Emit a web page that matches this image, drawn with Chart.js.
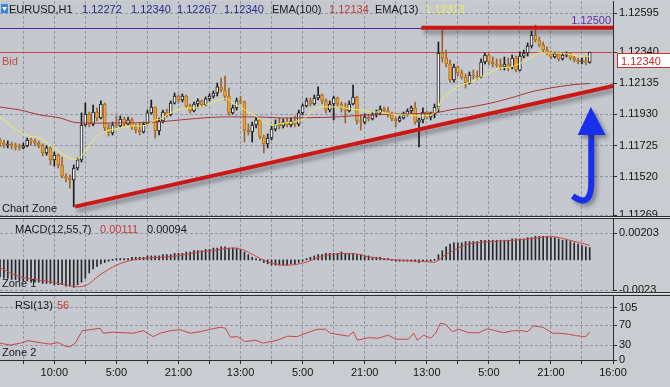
<!DOCTYPE html>
<html>
<head>
<meta charset="utf-8">
<script src="https://cdn.jsdelivr.net/npm/chart.js@4.4.0/dist/chart.umd.min.js"></script>
<style>
  html, body { margin: 0; padding: 0; background: #c9ccd1; }
  #wrap { position: relative; width: 670px; height: 387px; overflow: hidden; }
  canvas { position: absolute; left: 0; }
  .sep { position: absolute; left: 0; width: 670px; height: 1px; background: #2e3134; }
  .sepl { position: absolute; left: 0; width: 670px; height: 1px; background: #dfe1e4; }
</style>
</head>
<body>
<div id="wrap">
  <canvas id="main" width="670" height="217" style="top:0"></canvas>
  <canvas id="macd" width="670" height="76" style="top:217px"></canvas>
  <canvas id="rsi" width="670" height="94" style="top:293px"></canvas>
  <div class="sep" style="top:216px"></div>
  <div class="sepl" style="top:217px"></div>
  <div class="sep" style="top:218px"></div>
  <div class="sep" style="top:292px"></div>
  <div class="sepl" style="top:293px"></div>
  <div class="sep" style="top:295px"></div>
</div>
<script>
// EURUSD H1 candles, bar index 0..152 (open = previous close)
const firstOpen = 1.11762;
const closes = [
  1.11742, 1.11729, 1.11736, 1.11723, 1.11716, 1.11710, 1.11723, 1.11762, 1.11756, 1.11742,
  1.11729, 1.11677, 1.11710, 1.11631, 1.11663, 1.11598, 1.11525, 1.11512, 1.11499, 1.11578,
  1.11631, 1.11861, 1.11933, 1.11867, 1.11946, 1.11907, 1.11999, 1.11841, 1.11808, 1.11861,
  1.11854, 1.11900, 1.11867, 1.11894, 1.11848, 1.11828, 1.11815, 1.11867, 1.11940, 1.11979,
  1.11821, 1.11887, 1.11946, 1.11927, 1.12005, 1.12051, 1.12025, 1.12051, 1.11986, 1.11953,
  1.11999, 1.12019, 1.11992, 1.12032, 1.12051, 1.12071, 1.12111, 1.12091, 1.12051, 1.11940,
  1.11973, 1.12019, 1.12012, 1.11828, 1.11815, 1.11861, 1.11894, 1.11782, 1.11736, 1.11775,
  1.11834, 1.11867, 1.11854, 1.11880, 1.11861, 1.11887, 1.11867, 1.11940, 1.11986, 1.12019,
  1.11999, 1.12038, 1.12058, 1.12019, 1.11959, 1.11999, 1.12038, 1.11999, 1.11973, 1.11953,
  1.11999, 1.12045, 1.11887, 1.11880, 1.11913, 1.11900, 1.11927, 1.11940, 1.11966, 1.11953,
  1.11927, 1.11900, 1.11887, 1.11907, 1.11927, 1.11953, 1.11973, 1.11880, 1.11894, 1.11946,
  1.11913, 1.11933, 1.11979, 1.12334, 1.12301, 1.12262, 1.12157, 1.12242, 1.12203, 1.12176,
  1.12137, 1.12189, 1.12183, 1.12176, 1.12275, 1.12321, 1.12275, 1.12262, 1.12255, 1.12242,
  1.12262, 1.12242, 1.12301, 1.12222, 1.12314, 1.12334, 1.12380, 1.12452, 1.12420, 1.12387,
  1.12354, 1.12334, 1.12308, 1.12328, 1.12295, 1.12321, 1.12328, 1.12301, 1.12288, 1.12275,
  1.12282, 1.12272, 1.12340
];
const highs = [
  1.11775, 1.11762, 1.11756, 1.11749, 1.11742, 1.11736, 1.11742, 1.11775, 1.11775, 1.11769,
  1.11756, 1.11736, 1.11723, 1.11716, 1.11683, 1.11670, 1.11650, 1.11539, 1.11532, 1.11598,
  1.11644, 1.11940, 1.12005, 1.11946, 1.11992, 1.11973, 1.12019, 1.12005, 1.11867, 1.11880,
  1.11920, 1.11920, 1.11913, 1.11913, 1.11907, 1.11867, 1.11874, 1.11880, 1.11959, 1.12025,
  1.11973, 1.11907, 1.11959, 1.11966, 1.12019, 1.12071, 1.12058, 1.12065, 1.12058, 1.11999,
  1.12012, 1.12032, 1.12025, 1.12045, 1.12065, 1.12084, 1.12137, 1.12170, 1.12183, 1.12104,
  1.11992, 1.12038, 1.12051, 1.12019, 1.11867, 1.11880, 1.11913, 1.11900, 1.11795, 1.11802,
  1.11854, 1.11894, 1.11907, 1.11900, 1.11907, 1.11907, 1.11920, 1.11959, 1.11999, 1.12038,
  1.12038, 1.12058, 1.12111, 1.12065, 1.12032, 1.12019, 1.12051, 1.12045, 1.12012, 1.12005,
  1.12019, 1.12124, 1.12051, 1.11920, 1.11933, 1.11933, 1.11946, 1.11959, 1.11986, 1.11979,
  1.11979, 1.11946, 1.11913, 1.11920, 1.11946, 1.11966, 1.11986, 1.12012, 1.11907, 1.11973,
  1.11953, 1.11946, 1.11999, 1.12406, 1.12485, 1.12354, 1.12288, 1.12262, 1.12249, 1.12222,
  1.12196, 1.12209, 1.12222, 1.12216, 1.12295, 1.12334, 1.12328, 1.12308, 1.12295, 1.12295,
  1.12308, 1.12301, 1.12321, 1.12314, 1.12341, 1.12354, 1.12400, 1.12479, 1.12518, 1.12439,
  1.12406, 1.12374, 1.12347, 1.12341, 1.12341, 1.12334, 1.12341, 1.12334, 1.12314, 1.12301,
  1.12301, 1.12314, 1.12340
];
const lows = [
  1.11716, 1.11710, 1.11710, 1.11703, 1.11696, 1.11696, 1.11703, 1.11716, 1.11729, 1.11723,
  1.11710, 1.11657, 1.11663, 1.11598, 1.11591, 1.11578, 1.11512, 1.11486, 1.11446, 1.11322,
  1.11565, 1.11617, 1.11854, 1.11848, 1.11854, 1.11887, 1.11900, 1.11821, 1.11788, 1.11795,
  1.11841, 1.11848, 1.11854, 1.11861, 1.11834, 1.11808, 1.11795, 1.11808, 1.11861, 1.11933,
  1.11775, 1.11795, 1.11874, 1.11913, 1.11920, 1.11999, 1.12005, 1.12012, 1.11973, 1.11940,
  1.11946, 1.11973, 1.11979, 1.11986, 1.12019, 1.12038, 1.12051, 1.12078, 1.12025, 1.11927,
  1.11933, 1.11959, 1.11999, 1.11749, 1.11795, 1.11749, 1.11841, 1.11769, 1.11677, 1.11710,
  1.11762, 1.11821, 1.11834, 1.11841, 1.11848, 1.11848, 1.11848, 1.11854, 1.11927, 1.11979,
  1.11986, 1.11992, 1.12025, 1.11999, 1.11940, 1.11946, 1.11894, 1.11979, 1.11946, 1.11874,
  1.11946, 1.11992, 1.11867, 1.11828, 1.11867, 1.11887, 1.11894, 1.11913, 1.11927, 1.11940,
  1.11913, 1.11887, 1.11848, 1.11880, 1.11900, 1.11920, 1.11940, 1.11867, 1.11716, 1.11874,
  1.11900, 1.11894, 1.11907, 1.11946, 1.12275, 1.12242, 1.12143, 1.12143, 1.12183, 1.12163,
  1.12104, 1.12130, 1.12163, 1.12157, 1.12170, 1.12262, 1.12255, 1.12242, 1.12242, 1.12222,
  1.12222, 1.12216, 1.12229, 1.12209, 1.12216, 1.12301, 1.12314, 1.12367, 1.12406, 1.12374,
  1.12341, 1.12321, 1.12295, 1.12301, 1.12282, 1.12288, 1.12308, 1.12288, 1.12275, 1.12262,
  1.12262, 1.12255, 1.12267
];

// moving averages as [bar, price]
const ema13 = [
  [0, 1.11913], [2.6, 1.11861], [5.2, 1.11815], [7.7, 1.11788], [10.3, 1.11775], [12.9, 1.11729],
  [15.5, 1.11683], [17.3, 1.11650], [18.6, 1.11637], [19.9, 1.11637], [21.2, 1.11663], [22.5, 1.11710],
  [24, 1.11762], [25.8, 1.11802], [28.4, 1.11828], [31, 1.11841], [33.5, 1.11854], [36.1, 1.11854],
  [37.9, 1.11861], [40, 1.11894], [41.3, 1.11900], [43.9, 1.11940], [46.5, 1.11966], [49, 1.11973],
  [51.6, 1.11979], [54.2, 1.12005], [57.3, 1.12032], [58.6, 1.12032], [60.1, 1.12005], [61.9, 1.11979],
  [64.5, 1.11940], [66.3, 1.11913], [68.4, 1.11874], [70.5, 1.11861], [73, 1.11874], [75.6, 1.11880],
  [78.7, 1.11907], [80, 1.11946], [82.6, 1.11979], [85.2, 1.11979], [87.7, 1.11979], [90.3, 1.11966],
  [92.9, 1.11959], [95.5, 1.11946], [98.1, 1.11946], [100.6, 1.11933], [103.2, 1.11927], [105.8, 1.11927],
  [108.4, 1.11920], [111, 1.11927], [112.8, 1.11959], [113.5, 1.12012], [114.8, 1.12058], [117.4, 1.12104],
  [118.7, 1.12124], [121.3, 1.12143], [123.9, 1.12176], [126.5, 1.12209], [129, 1.12236], [131.6, 1.12242],
  [134.2, 1.12268], [136.8, 1.12301], [138.8, 1.12334], [141.2, 1.12334], [143.7, 1.12334], [146.3, 1.12328],
  [148.9, 1.12314], [152, 1.12313]
];
const ema100 = [
  [0, 1.11979], [5.2, 1.11959], [10.3, 1.11927], [15.5, 1.11907], [18.8, 1.11880], [21.4, 1.11874],
  [31, 1.11874], [40, 1.11880], [49, 1.11900], [56, 1.11913], [67.1, 1.11913], [73, 1.11907],
  [85.9, 1.11913], [94.7, 1.11927], [103.2, 1.11933], [111.7, 1.11940], [117.4, 1.11966], [121.3, 1.11979],
  [126.5, 1.12005], [131.6, 1.12038], [136.8, 1.12078], [141.9, 1.12104], [147.1, 1.12124], [152, 1.12134]
];

// MACD(12,55,7): histogram per bar, signal as [bar, value]
const macdHist = [
  -0.0013, -0.0014, -0.0014, -0.0015, -0.0015, -0.0016, -0.0016, -0.0016, -0.0017, -0.0017,
  -0.0017, -0.0018, -0.0018, -0.0018, -0.0019, -0.0019, -0.0019, -0.0020, -0.0020, -0.0021,
  -0.0019, -0.0017, -0.0014, -0.0010, -0.0007, -0.0005, -0.0003, -0.0002, -0.0001, 0.0000,
  0.0001, 0.0001, 0.0001, 0.0001, 0.0002, 0.0002, 0.0002, 0.0002, 0.0003, 0.0003,
  0.0003, 0.0003, 0.0004, 0.0004, 0.0004, 0.0005, 0.0005, 0.0005, 0.0006, 0.0006,
  0.0007, 0.0007, 0.0007, 0.0008, 0.0008, 0.0009, 0.0009, 0.0010, 0.0010, 0.0009,
  0.0009, 0.0009, 0.0008, 0.0006, 0.0004, 0.0002, 0.0001, 0.0000, -0.0002, -0.0003,
  -0.0004, -0.0004, -0.0004, -0.0004, -0.0004, -0.0003, -0.0003, -0.0002, -0.0001, 0.0001,
  0.0002, 0.0003, 0.0004, 0.0004, 0.0005, 0.0005, 0.0005, 0.0005, 0.0006, 0.0005,
  0.0005, 0.0005, 0.0004, 0.0004, 0.0003, 0.0003, 0.0002, 0.0002, 0.0002, 0.0001,
  0.0001, 0.0000, -0.0001, -0.0001, -0.0001, -0.0001, -0.0001, -0.0001, -0.0002, -0.0001,
  -0.0001, -0.0001, 0.0000, 0.0004, 0.0007, 0.0010, 0.0012, 0.0013, 0.0013, 0.0013,
  0.0014, 0.0014, 0.0014, 0.0014, 0.0015, 0.0015, 0.0015, 0.0015, 0.0015, 0.0015,
  0.0015, 0.0015, 0.0016, 0.0016, 0.0016, 0.0016, 0.0017, 0.0017, 0.0018, 0.0018,
  0.0018, 0.0018, 0.0017, 0.0017, 0.0016, 0.0015, 0.0015, 0.0014, 0.0013, 0.0012,
  0.0011, 0.0010, 0.00094
];
const macdSignal = [
  [0, -0.00061], [5.2, -0.00129], [12.9, -0.00167], [19.9, -0.00205], [22.5, -0.00190], [25.8, -0.00114],
  [30.2, -0.00038], [34.3, 0], [38.7, 0.00015], [43.1, 0.00023], [47.2, 0.00038], [51.6, 0.00061],
  [56, 0.00076], [60.1, 0.00091], [62.7, 0.00076], [65.3, 0.00038], [68.9, -0.00015], [72.3, -0.00038],
  [75.6, -0.00038], [79.2, -0.00015], [82.6, 0.00023], [86.5, 0.00046], [91.6, 0.00046], [95, 0.00023],
  [101.9, 0], [110.5, -0.00015], [112.3, -0.00015], [114.8, 0.00038], [118.2, 0.00091], [120.8, 0.00122],
  [125.2, 0.00137], [129.5, 0.00144], [136.3, 0.00160], [140.6, 0.00175], [143.2, 0.00175], [146.6, 0.00152],
  [152, 0.00111]
];

// RSI(13) as [bar, value]
const rsi13 = [
  [0, 34], [2.6, 30], [5.2, 34], [7.2, 39], [10.3, 35], [12.9, 32], [15, 35], [16.8, 28], [18.1, 27],
  [19.4, 34], [21.2, 59], [23.2, 61], [25.8, 64], [26.6, 54], [29.2, 56], [31.7, 55], [34.3, 54],
  [36.9, 59], [39.5, 47], [41.3, 54], [43.9, 59], [46.5, 61], [49, 54], [51.6, 57], [54.2, 62],
  [56.8, 66], [58.1, 64], [59.4, 46], [61.2, 47], [63.2, 37], [65.8, 40], [67.9, 34], [71.5, 40],
  [74.1, 48], [76.6, 47], [79.2, 55], [81.8, 62], [83.9, 62], [85.2, 54], [88.3, 50], [89.8, 48],
  [91.1, 57], [92.1, 40], [95, 45], [97.5, 44], [100.1, 50], [101.9, 42], [105.3, 42], [106.6, 54],
  [107.6, 40], [109.2, 50], [111, 44], [112.3, 54], [113.5, 74], [114.8, 72], [116.6, 57], [118.2, 62],
  [120.8, 55], [123.4, 55], [125.7, 63], [127.7, 59], [129.8, 55], [132.1, 59], [134.7, 59], [136, 57],
  [137.5, 69], [139.9, 66], [142.5, 54], [144, 54], [146.6, 52], [148.4, 49], [151, 47], [152, 56]
];

// axes
const gridBars = [6, 14, 22, 30, 38, 46, 54, 62, 70, 78, 86, 94, 102, 110, 118, 126, 134, 142, 150, 158];
const labelBars = [14, 30, 46, 62, 78, 94, 110, 126, 142, 158];
const timeLabels = ['10:00', '5:00', '21:00', '13:00', '5:00', '21:00', '13:00', '5:00', '21:00', '16:00'];
const priceTicks = [1.12595, 1.12340, 1.12135, 1.11930, 1.11725, 1.11520, 1.11269];
const macdTicks = [0.00203, -0.0023];
const macdTickText = ['0.00203', '-0.0023'];
const rsiTicks = [105, 70, 30, 0];

// drawn objects, in [bar, price]
const levelLine = 1.12500;
const bidPrice = 1.12340;
const resistance = [[108.6, 1.12500], [158, 1.12500]];
const trendLine = [[19.35, 1.11324], [158, 1.12117]];
const arrowTail = [147.6, 1.11394];
const arrowCurve = [152.6, 1.11302];
const arrowBend = [152.4, 1.11499];
const arrowNeck = [152.4, 1.11800];
const arrowHead = [[148.9, 1.11795], [152.3, 1.11979], [156.1, 1.11795]];

// header texts
const headerItems = [
  ['EURUSD,H1', 9, '#15171a'], ['1.12272', 82, '#232c86'], ['1.12340', 131, '#232c86'],
  ['1.12267', 177, '#232c86'], ['1.12340', 224, '#232c86'], ['EMA(100)', 272, '#15171a'],
  ['1.12134', 329, '#c23a3a'], ['EMA(13)', 375, '#15171a'], ['1.12313', 425, '#eceb5a']
];

const FONT = '"Liberation Sans", Arial, sans-serif';
const GRID = '#8f97a3';
const AXIS = '#2b2d30';
Chart.defaults.font.family = FONT;
Chart.defaults.font.size = 11;
Chart.defaults.color = '#121416';

const opens = closes.map((c, i) => (i === 0 ? firstOpen : closes[i - 1]));
const bull = closes.map((c, i) => c >= opens[i]);

function xScale(showLabels) {
  return {
    type: 'linear', min: 0, max: 158, offset: false,
    afterBuildTicks: s => { s.ticks = gridBars.map(v => ({ value: v })); },
    afterFit: s => {
      s.height = showLabels ? 27 : 0;
      s.paddingLeft = 0; s.paddingRight = 0;
    },
    grid: { color: GRID, offset: false, drawTicks: showLabels, tickLength: 4, tickColor: AXIS, tickBorderDash: [] },
    border: { display: showLabels, color: AXIS, dash: [3, 2] },
    ticks: {
      display: showLabels, autoSkip: false, maxRotation: 0, padding: 2, color: '#121416',
      callback: v => { const k = labelBars.indexOf(v); return k >= 0 ? timeLabels[k] : ''; }
    }
  };
}
function yScale(min, max, ticks, fmt) {
  return {
    position: 'right', min, max, beginAtZero: false,
    afterBuildTicks: s => { s.ticks = ticks.map(v => ({ value: v })); },
    afterFit: s => {
      s.width = 57;
      s.paddingTop = 0; s.paddingBottom = 0;
    },
    grid: { color: GRID, drawTicks: true, tickLength: 4, tickColor: AXIS, tickBorderDash: [] },
    border: { display: true, color: AXIS, dash: [3, 2] },
    ticks: { padding: 2, color: '#121416', callback: fmt }
  };
}

const panelBg = {
  id: 'panelBg',
  beforeDraw(chart) {
    const { ctx, chartArea: a, width, height } = chart;
    ctx.save();
    ctx.fillStyle = '#c9ccd1';
    ctx.fillRect(0, 0, width, height);
    ctx.fillStyle = '#c5c9cf';
    ctx.fillRect(a.left, a.top, a.right - a.left, a.bottom - a.top);
    ctx.restore();
  }
};

function texts(ctx, items, y) {
  items.forEach(([t, x, c]) => { ctx.fillStyle = c; ctx.fillText(t, x, y); });
}

const baseOptions = {
  responsive: false, animation: false, events: [], devicePixelRatio: 1,
  plugins: { legend: { display: false }, tooltip: { enabled: false } }
};

// main price panel
const mainMarks = {
  id: 'mainMarks',
  beforeDatasetsDraw(chart) {
    const { ctx, chartArea: a, scales: { y } } = chart;
    ctx.save();
    ctx.lineWidth = 1;
    ctx.strokeStyle = '#4c2aa0';
    let py = Math.round(y.getPixelForValue(levelLine)) + 0.5;
    ctx.beginPath(); ctx.moveTo(a.left, py); ctx.lineTo(a.right, py); ctx.stroke();
    ctx.strokeStyle = '#c44a4a';
    py = Math.round(y.getPixelForValue(bidPrice)) + 0.5;
    ctx.beginPath(); ctx.moveTo(a.left, py); ctx.lineTo(a.right, py); ctx.stroke();
    ctx.restore();
  },
  afterDatasetsDraw(chart) {
    const { ctx, chartArea: a, scales: { x, y } } = chart;
    const P = p => [x.getPixelForValue(p[0]), y.getPixelForValue(p[1])];
    ctx.save();
    ctx.beginPath(); ctx.rect(a.left, a.top, a.right - a.left, a.bottom - a.top); ctx.clip();
    // red drawn lines with shadow
    ctx.shadowColor = 'rgba(40,40,50,0.45)';
    ctx.shadowBlur = 4; ctx.shadowOffsetX = 2; ctx.shadowOffsetY = 4;
    ctx.strokeStyle = '#cc1717';
    ctx.lineWidth = 4;
    [resistance, trendLine].forEach(seg => {
      const p0 = P(seg[0]), p1 = P(seg[1]);
      ctx.beginPath(); ctx.moveTo(p0[0], p0[1]); ctx.lineTo(p1[0], p1[1]); ctx.stroke();
    });
    // blue arrow
    ctx.shadowOffsetX = 3; ctx.shadowOffsetY = 3;
    ctx.strokeStyle = '#1830ee';
    ctx.fillStyle = '#1830ee';
    ctx.lineWidth = 6;
    ctx.lineCap = 'butt';
    const t = P(arrowTail), c = P(arrowCurve), b = P(arrowBend), n = P(arrowNeck);
    ctx.beginPath(); ctx.moveTo(t[0], t[1]); ctx.quadraticCurveTo(c[0], c[1], b[0], b[1]); ctx.lineTo(n[0], n[1]); ctx.stroke();
    const h = arrowHead.map(P);
    ctx.beginPath(); ctx.moveTo(h[0][0], h[0][1]); ctx.lineTo(h[1][0], h[1][1]); ctx.lineTo(h[2][0], h[2][1]); ctx.closePath(); ctx.fill();
    ctx.restore();
  },
  afterDraw(chart) {
    const { ctx, scales: { y } } = chart;
    ctx.save();
    ctx.font = '11px ' + FONT;
    ctx.textBaseline = 'alphabetic';
    // header icon
    ctx.fillStyle = '#3a86d8';
    ctx.fillRect(1, 4, 7, 9);
    ctx.fillStyle = '#ffffff';
    ctx.beginPath(); ctx.moveTo(2, 7); ctx.lineTo(7, 7); ctx.lineTo(4.5, 11); ctx.closePath(); ctx.fill();
    texts(ctx, headerItems, 13);
    texts(ctx, [['Bid', 2, '#c44a4a']], 65);
    texts(ctx, [['Chart Zone', 2, '#15171a']], 212);
    ctx.fillStyle = '#5a2caa';
    ctx.textAlign = 'right';
    ctx.fillText(levelLine.toFixed(5), 611, 24);
    // bid price box
    const by = Math.round(y.getPixelForValue(bidPrice));
    ctx.fillStyle = '#ffffff';
    ctx.fillRect(617.5, by + 1.5, 55, 14);
    ctx.strokeStyle = '#c83030';
    ctx.lineWidth = 1;
    ctx.strokeRect(617.5, by + 1.5, 55, 14);
    ctx.textAlign = 'left';
    ctx.fillStyle = '#c82828';
    ctx.fillText(bidPrice.toFixed(5), 621, by + 12.5);
    ctx.restore();
  }
};

new Chart(document.getElementById('main'), {
  type: 'bar',
  data: {
    datasets: [
      {
        type: 'line', label: 'EMA(13)', order: 0,
        data: ema13.map(p => ({ x: p[0], y: p[1] })),
        borderColor: '#eeec58', borderWidth: 1, pointRadius: 0, tension: 0.3
      },
      {
        type: 'line', label: 'EMA(100)', order: 1,
        data: ema100.map(p => ({ x: p[0], y: p[1] })),
        borderColor: '#a83434', borderWidth: 1, pointRadius: 0, tension: 0.3
      },
      {
        label: 'body', order: 2, grouped: false,
        data: closes.map((c, i) => ({ x: i, y: [opens[i], c] })),
        backgroundColor: bull.map(u => (u ? '#f4f4f4' : '#f0a832')),
        borderColor: bull.map(u => (u ? '#1a1a1a' : '#b46c1c')),
        borderWidth: 1, borderSkipped: false, barThickness: 3, minBarLength: 1
      },
      {
        label: 'wick', order: 3, grouped: false,
        data: closes.map((c, i) => ({ x: i, y: [Math.min(lows[i], opens[i], c), Math.max(highs[i], opens[i], c)] })),
        backgroundColor: bull.map(u => (u ? '#1a1a1a' : '#9c6428')),
        barThickness: 1
      }
    ]
  },
  options: {
    ...baseOptions,
    layout: { padding: { top: 1, bottom: 2, left: 0, right: 0 } },
    scales: {
      x: xScale(false),
      y: yScale(1.11269, 1.12676, priceTicks, v => v.toFixed(5))
    }
  },
  plugins: [panelBg, mainMarks]
});

// MACD panel
new Chart(document.getElementById('macd'), {
  type: 'bar',
  data: {
    datasets: [
      {
        type: 'line', label: 'Signal', order: 0,
        data: macdSignal.map(p => ({ x: p[0], y: p[1] })),
        borderColor: '#c84646', borderWidth: 1, pointRadius: 0, tension: 0.3
      },
      {
        label: 'MACD', order: 1,
        data: macdHist.map((v, i) => ({ x: i, y: v })),
        backgroundColor: '#26272a', barThickness: 1, minBarLength: 1
      }
    ]
  },
  options: {
    ...baseOptions,
    layout: { padding: { top: 2, bottom: 3, left: 0, right: 0 } },
    scales: {
      x: xScale(false),
      y: yScale(-0.0023, 0.00312, macdTicks, (v, i) => macdTickText[i])
    }
  },
  plugins: [panelBg, {
    id: 'macdText',
    afterDraw(chart) {
      const ctx = chart.ctx;
      ctx.save();
      ctx.font = '11px ' + FONT;
      texts(ctx, [['MACD(12,55,7)', 15, '#15171a'], ['0.00111', 100, '#c23a3a'], ['0.00094', 147, '#15171a']], 16);
      texts(ctx, [['Zone 1', 2, '#15171a']], 70);
      ctx.restore();
    }
  }]
});

// RSI panel
new Chart(document.getElementById('rsi'), {
  type: 'line',
  data: {
    datasets: [{
      label: 'RSI(13)',
      data: rsi13.map(p => ({ x: p[0], y: p[1] })),
      borderColor: '#c84646', borderWidth: 1, pointRadius: 0, tension: 0
    }]
  },
  options: {
    ...baseOptions,
    layout: { padding: { top: 3, bottom: 0, left: 0, right: 0 } },
    scales: {
      x: xScale(true),
      y: yScale(0, 129, rsiTicks, v => String(v))
    }
  },
  plugins: [panelBg, {
    id: 'rsiText',
    afterDraw(chart) {
      const ctx = chart.ctx;
      ctx.save();
      ctx.font = '11px ' + FONT;
      texts(ctx, [['RSI(13)', 15, '#15171a'], ['56', 57, '#c23a3a']], 16);
      texts(ctx, [['Zone 2', 2, '#15171a']], 63);
      ctx.restore();
    }
  }]
});
</script>
</body>
</html>
